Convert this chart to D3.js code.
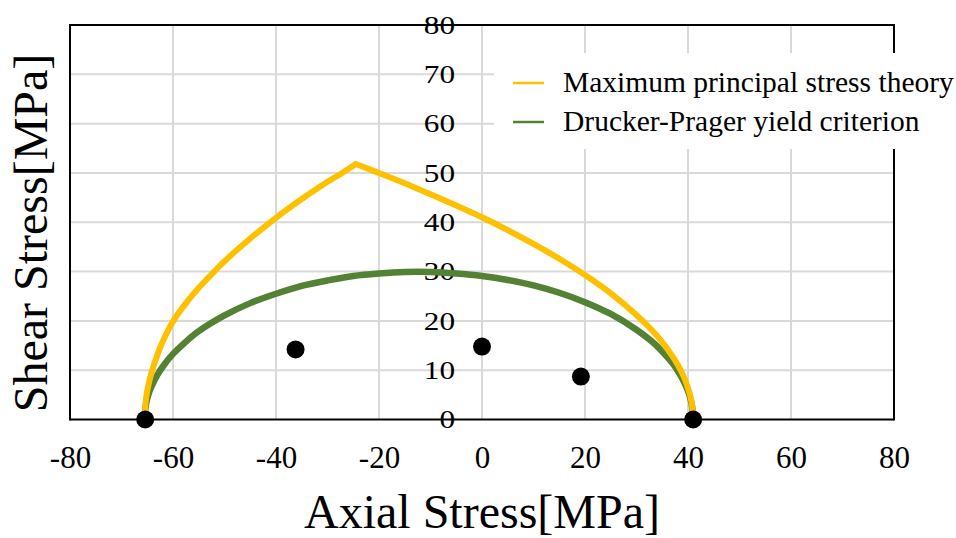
<!DOCTYPE html>
<html>
<head>
<meta charset="utf-8">
<script src="https://cdn.jsdelivr.net/npm/d3@7"></script>
<style>
  html, body { margin: 0; padding: 0; background: #fff; }
  svg { display: block; }
  svg text { font-family: "Liberation Serif", "Times New Roman", serif; }
</style>
</head>
<body>
<svg id="chart" width="956" height="538"></svg>
<script>
// Failure envelope: maximum principal stress theory (axial stress, shear stress) [MPa]
// compression-controlled branch, up to the corner
const mpsCompAxial = [-65.5, -65.3, -65, -64.5, -64, -63, -62, -60, -58, -55, -52, -50, -45, -40, -35, -30, -27, -24.5];
const mpsCompShear = [0, 3.6, 5.8, 8.2, 10.1, 13.2, 15.8, 19.9, 22.9, 26.7, 30.0, 32.1, 36.7, 40.9, 44.7, 48.2, 50.1, 51.8];
// tension-controlled branch, from the corner
const mpsTensAxial = [-24.5, -20, -15, -10, -5, 0, 5, 10, 15, 20, 25, 30, 33, 35, 37, 38, 39, 40, 40.5, 40.8, 41];
const mpsTensShear = [51.8, 50.0, 47.9, 45.7, 43.4, 41.0, 38.4, 35.6, 32.6, 29.3, 25.6, 21.2, 18.1, 15.7, 12.8, 11.1, 9.1, 6.4, 4.5, 2.9, 0];

// Failure envelope: Drucker-Prager yield criterion
const dpAxial = [-65.5, -65.3, -65, -64.5, -64, -63, -62, -60, -58, -55, -50, -45, -40, -35, -30, -25, -20, -15, -10, -5,
                 0, 5, 10, 15, 20, 25, 30, 33, 35, 37, 38, 39, 40, 40.5, 40.8, 41];
const dpShear = [0, 2.7, 4.2, 5.9, 7.1, 9.1, 10.7, 13.3, 15.3, 17.9, 21.1, 23.6, 25.5, 27.1, 28.2, 29.1, 29.6, 29.9, 29.9, 29.6,
                 29.1, 28.3, 27.2, 25.7, 23.8, 21.4, 18.2, 15.8, 13.8, 11.4, 9.9, 8.1, 5.8, 4.1, 2.6, 0];

// Measured stress states
const testAxial = [-65.4, -36.2, 0.0, 19.2, 41.0];
const testShear = [0, 14.2, 14.8, 8.7, 0];

const xTicks = [-80, -60, -40, -20, 0, 20, 40, 60, 80];
const yTicks = [0, 10, 20, 30, 40, 50, 60, 70, 80];
const seriesNames = ["Maximum principal stress theory", "Drucker-Prager yield criterion"];
const seriesColors = ["#FFC000", "#548235"];

const svg = d3.select("#chart");
const plot = { left: 70, right: 894, top: 25, bottom: 419.5 };

const x = d3.scaleLinear().domain([-80, 80]).range([plot.left, plot.right]);
const y = d3.scaleLinear().domain([0, 80]).range([plot.bottom, plot.top]);

// gridlines
const grid = svg.append("g");
grid.selectAll("line.v").data(xTicks.slice(1, -1)).join("line")
  .attr("x1", d => x(d)).attr("x2", d => x(d))
  .attr("y1", plot.top).attr("y2", plot.bottom)
  .attr("stroke", "#d9d9d9").attr("stroke-width", 2);
grid.selectAll("line.h").data(yTicks.slice(1, -1)).join("line")
  .attr("x1", plot.left).attr("x2", plot.right)
  .attr("y1", d => y(d)).attr("y2", d => y(d))
  .attr("stroke", "#d9d9d9").attr("stroke-width", 2);

// plot frame (left, top, right) and the zero-shear axis
const frame = svg.append("g").attr("stroke", "#000").attr("stroke-width", 2);
frame.append("line").attr("x1", plot.left).attr("x2", plot.left).attr("y1", plot.top - 1).attr("y2", plot.bottom + 1);
frame.append("line").attr("x1", plot.right).attr("x2", plot.right).attr("y1", plot.top - 1).attr("y2", plot.bottom + 1);
frame.append("line").attr("x1", plot.left).attr("x2", plot.right).attr("y1", plot.top).attr("y2", plot.top);
frame.append("line").attr("x1", plot.left).attr("x2", plot.right).attr("y1", y(0)).attr("y2", y(0));

// x axis tick labels (plain hyphen for negatives)
const xAxis = d3.axisBottom(x).tickValues(xTicks).tickSize(0).tickPadding(0).tickFormat(d => String(d));
const xg = svg.append("g").attr("transform", `translate(0, ${plot.bottom})`).call(xAxis)
  .attr("font-family", null).attr("font-size", null);
xg.select(".domain").remove();
xg.selectAll("text")
  .attr("y", 48).attr("dy", null)
  .attr("font-size", 31).attr("fill", "#000");

// y axis tick labels, placed at the zero-axial-stress line
const yg = svg.append("g");
yg.selectAll("text").data(yTicks).join("text")
  .attr("transform", d => `translate(${x(0) - 27}, ${y(d)}) scale(1.25, 1)`)
  .attr("dy", "0.35em")
  .attr("text-anchor", "end")
  .attr("font-size", 25)
  .attr("fill", "#000")
  .text(d => d);

// envelopes
const line = d3.line()
  .x(d => x(d[0])).y(d => y(d[1]))
  .curve(d3.curveCatmullRom.alpha(0.5));

svg.append("path")
  .datum(dpAxial.map((v, i) => [v, dpShear[i]]))
  .attr("d", line)
  .attr("fill", "none").attr("stroke", seriesColors[1]).attr("stroke-width", 6.5)
  .attr("stroke-linejoin", "round");

// the two branches are smoothed separately and joined with a sharp corner
const compPath = line(mpsCompAxial.map((v, i) => [v, mpsCompShear[i]]));
const tensPath = line(mpsTensAxial.map((v, i) => [v, mpsTensShear[i]]));
svg.append("path")
  .attr("d", compPath + "L" + tensPath.slice(1))
  .attr("fill", "none").attr("stroke", seriesColors[0]).attr("stroke-width", 6)
  .attr("stroke-linejoin", "miter");

// measured points
svg.append("g").selectAll("circle")
  .data(testAxial.map((v, i) => [v, testShear[i]]))
  .join("circle")
  .attr("cx", d => x(d[0])).attr("cy", d => y(d[1]))
  .attr("r", 9).attr("fill", "#000");

// legend
const legend = svg.append("g");
legend.append("rect")
  .attr("x", 494).attr("y", 53).attr("width", 462).attr("height", 96)
  .attr("fill", "#fff");
const legendRows = legend.selectAll("g.row").data(seriesNames).join("g")
  .attr("transform", (d, i) => `translate(0, ${83 + i * 39})`);
legendRows.append("line")
  .attr("x1", 513).attr("x2", 544).attr("y1", 0).attr("y2", 0)
  .attr("stroke", (d, i) => seriesColors[i]).attr("stroke-width", 2.5);
legendRows.append("text")
  .attr("x", 563).attr("y", 9)
  .attr("font-size", 29.5).attr("fill", "#000")
  .text(d => d);

// axis titles
svg.append("text")
  .attr("x", 482).attr("y", 528)
  .attr("text-anchor", "middle")
  .attr("font-size", 48).attr("fill", "#000")
  .text("Axial Stress[MPa]");

svg.append("text")
  .attr("transform", "translate(47, 233) rotate(-90)")
  .attr("text-anchor", "middle")
  .attr("font-size", 48).attr("fill", "#000")
  .text("Shear Stress[MPa]");
</script>
</body>
</html>
